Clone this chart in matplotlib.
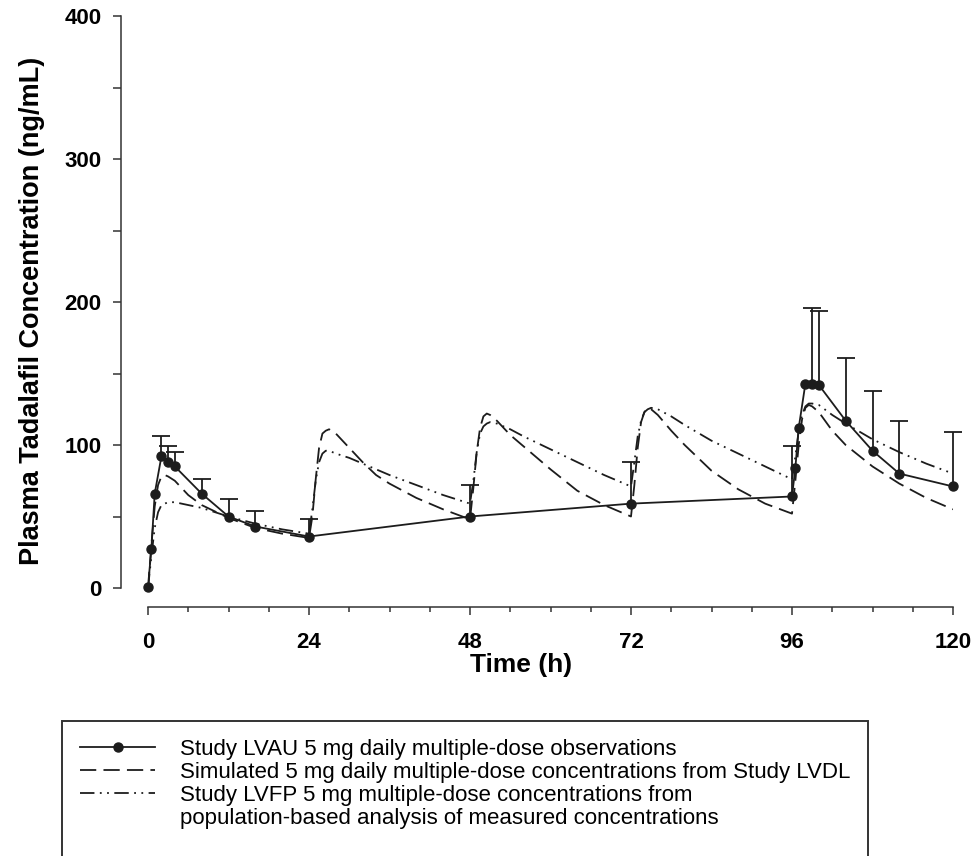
import numpy as np
import matplotlib
matplotlib.use("Agg")
import matplotlib.pyplot as plt
from matplotlib.lines import Line2D
from matplotlib.legend_handler import HandlerLine2D
from matplotlib.ticker import MultipleLocator

nan = np.nan

# Study LVAU observed means (h, ng/mL); sd_top = top of the +SD whisker (nan = none drawn)
obs_time = [0, 0.5, 1, 2, 3, 4, 8, 12, 16, 24, 48, 72,
            96, 96.5, 97, 98, 99, 100, 104, 108, 112, 120]
obs_conc = [1, 27, 66, 92, 88, 85, 66, 50, 43, 36, 50, 59,
            64, 84, 112, 143, 143, 142, 117, 96, 80, 71]
obs_sd_top = [nan, nan, nan, 106, 99, 95, 76, 62, 54, 48, 72, 88,
              99, nan, nan, nan, 196, 194, 161, 138, 117, 109]

# Simulated 5 mg daily profile from Study LVDL
sim_time = [0, 0.5, 1, 1.5, 2, 2.5, 3, 4, 6, 8, 12, 16, 20, 24,
            24.5, 25, 25.5, 26, 26.5, 27, 28, 30, 32, 34, 36, 40, 44, 48,
            48.5, 49, 49.5, 50, 50.5, 51, 52, 54, 56, 58, 60, 64, 68, 72,
            72.5, 73, 73.5, 74, 74.5, 75, 76, 78, 80, 84, 88, 92, 96,
            96.5, 97, 97.5, 98, 98.5, 99, 100, 102, 104, 108, 112, 116, 120]
sim_conc = [0, 30, 57, 72, 78, 79, 78, 75, 65, 58, 49, 42, 38, 35,
            50, 76, 98, 108, 110, 111, 108, 98, 88, 79, 73, 63, 55, 48,
            70, 95, 112, 120, 122, 121, 117, 107, 99, 91, 83, 68, 58, 50,
            72, 98, 116, 123, 126, 125, 121, 110, 100, 82, 69, 59, 52,
            75, 100, 118, 126, 128, 127, 123, 110, 100, 85, 73, 63, 55]

# Study LVFP population-model profile (dash-dot-dot curve)
lvfp_time = [0, 0.5, 1, 1.5, 2, 3, 4, 6, 8, 12, 16, 20, 24,
             24.5, 25, 25.5, 26, 26.5, 27, 28, 30, 32, 36, 40, 44, 48,
             48.5, 49, 49.5, 50, 50.5, 51, 52, 54, 56, 60, 64, 68, 72,
             72.5, 73, 73.5, 74, 74.5, 75, 76, 78, 80, 84, 88, 92, 96,
             96.5, 97, 97.5, 98, 98.5, 99, 100, 102, 104, 108, 112, 116, 120]
lvfp_conc = [0, 22, 42, 53, 58, 60, 60, 58, 56, 50, 45, 41, 38,
             55, 75, 88, 94, 96, 96, 94, 91, 87, 79, 72, 65, 59,
             75, 95, 108, 113, 115, 116, 115, 111, 106, 97, 88, 79, 71,
             88, 106, 117, 123, 125, 126, 125, 120, 114, 103, 94, 85, 76,
             92, 110, 121, 127, 129, 129, 128, 121, 115, 104, 95, 87, 80]

# last two entries continue / pad the box (the original box runs off the page)
legend_labels = [
    "Study LVAU 5 mg daily multiple-dose observations",
    "Simulated 5 mg daily multiple-dose concentrations from Study LVDL",
    "Study LVFP 5 mg multiple-dose concentrations from",
    "population-based analysis of measured concentrations",
    " ",
]

INK = "#1c1c1c"
LW = 1.3


class MarkerLeftHandler(HandlerLine2D):
    """Legend line with the dot sitting left of centre, as in the original."""
    def get_xdata(self, legend, xdescent, ydescent, width, height, fontsize):
        xdata, _ = super().get_xdata(legend, xdescent, ydescent, width, height, fontsize)
        return xdata, np.array([-xdescent + 0.3 * width])


def main():
    plt.rcParams["font.family"] = ["Liberation Sans", "DejaVu Sans"]
    fig = plt.figure(figsize=(9.76, 8.56), dpi=100)
    ax = fig.add_axes([148 / 976, 1 - 588 / 856, 805 / 976, 572 / 856])

    ax.plot(sim_time, sim_conc, color=INK, lw=LW, dashes=(9, 4), zorder=2)
    ax.plot(lvfp_time, lvfp_conc, color=INK, lw=LW,
            dashes=(8, 3, 1, 3, 1, 3), zorder=2)

    t = np.array(obs_time, float)
    c = np.array(obs_conc, float)
    top = np.array(obs_sd_top, float)
    has_sd = ~np.isnan(top)
    up = top[has_sd] - c[has_sd]
    _, caps, _ = ax.errorbar(t[has_sd], c[has_sd], yerr=[np.zeros_like(up), up],
                             fmt="none", ecolor=INK, elinewidth=1.3,
                             capsize=6.5, capthick=1.3, zorder=3, clip_on=False)
    caps[0].set_visible(False)
    obs_line, = ax.plot(t, c, color=INK, lw=LW, marker="o", ms=6.5,
                        zorder=4, clip_on=False)

    ax.set_xlim(0, 120)
    ax.set_ylim(0, 400)
    for side in ("top", "right"):
        ax.spines[side].set_visible(False)
    ax.spines["left"].set_position(("outward", 19.8))
    ax.spines["bottom"].set_position(("outward", 14))
    for side in ("left", "bottom"):
        ax.spines[side].set_color("#333333")
        ax.spines[side].set_linewidth(1.1)

    ax.xaxis.set_major_locator(MultipleLocator(24))
    ax.xaxis.set_minor_locator(MultipleLocator(6))
    ax.yaxis.set_major_locator(MultipleLocator(100))
    ax.yaxis.set_minor_locator(MultipleLocator(50))
    ax.tick_params(axis="x", which="major", length=5.8, width=1.1, pad=12,
                   labelsize=16, color="#333333")
    ax.tick_params(axis="x", which="minor", length=3.6, width=1.1, color="#333333")
    ax.tick_params(axis="y", which="both", length=5.8, width=1.1, pad=8,
                   labelsize=16, color="#333333")
    for lab in ax.get_xticklabels() + ax.get_yticklabels():
        lab.set_fontweight("bold")

    ax.set_xlabel("Time (h)", fontsize=19, fontweight="bold")
    ax.xaxis.set_label_coords(0.4634, -0.114)
    ax.set_ylabel("Plasma Tadalafil Concentration (ng/mL)", fontsize=19.5,
                  fontweight="bold")
    ax.yaxis.set_label_coords(-0.128, 0.484)

    blank = Line2D([], [], color="none")
    pad_row = Line2D([], [], color="none")
    leg = fig.legend([obs_line, ax.lines[0], ax.lines[1], blank, pad_row],
                     legend_labels, loc="upper left",
                     bbox_to_anchor=(62 / 976, 0.0, (868 - 62) / 976, 1 - 721 / 856),
                     mode="expand", borderaxespad=0, fontsize=16,
                     handlelength=3.4, handletextpad=1.1, labelspacing=0.1,
                     borderpad=0.8, fancybox=False, framealpha=1,
                     edgecolor="#333333",
                     handler_map={obs_line: MarkerLeftHandler()})
    leg.get_frame().set_linewidth(1.4)

    fig.savefig("out.png", dpi=100)


if __name__ == "__main__":
    main()
